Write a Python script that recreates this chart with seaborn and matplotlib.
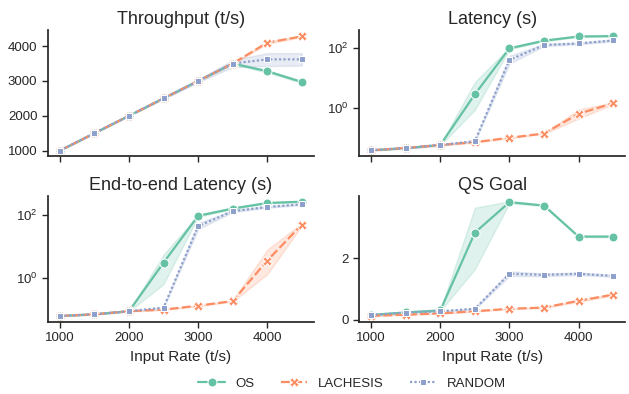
import pandas as pd
import seaborn as sns
import matplotlib.pyplot as plt

rates = [1000, 1500, 2000, 2500, 3000, 3500, 4000, 4500]
methods = ["OS", "LACHESIS", "RANDOM"]

# Throughput (t/s): middle value and band low/high
thr_os = [1000, 1500, 2000, 2500, 3000, 3500, 3280, 2970]
thr_os_lo = [1000, 1500, 2000, 2500, 3000, 3480, 3240, 2940]
thr_os_hi = [1000, 1500, 2000, 2500, 3000, 3520, 3310, 3000]
thr_la = [1000, 1500, 2000, 2500, 3000, 3500, 4100, 4280]
thr_la_lo = [1000, 1500, 2000, 2500, 3000, 3480, 4070, 4260]
thr_la_hi = [1000, 1500, 2000, 2500, 3000, 3520, 4130, 4300]
thr_rd = [1000, 1500, 2000, 2500, 3000, 3500, 3620, 3620]
thr_rd_lo = [1000, 1500, 2000, 2480, 2960, 3400, 3430, 3440]
thr_rd_hi = [1000, 1500, 2000, 2520, 3040, 3600, 3800, 3800]

# Latency (s)
lat_os = [0.040, 0.047, 0.060, 2.9, 97, 174, 240, 247]
lat_os_lo = [0.039, 0.046, 0.058, 0.88, 90, 165, 230, 240]
lat_os_hi = [0.041, 0.048, 0.062, 7.4, 104, 182, 250, 255]
lat_la = [0.040, 0.048, 0.060, 0.074, 0.104, 0.144, 0.65, 1.46]
lat_la_lo = [0.039, 0.046, 0.057, 0.072, 0.100, 0.140, 0.45, 1.35]
lat_la_hi = [0.042, 0.050, 0.063, 0.077, 0.108, 0.150, 0.90, 1.55]
lat_rd = [0.040, 0.047, 0.060, 0.080, 40, 125, 141, 177]
lat_rd_lo = [0.039, 0.046, 0.058, 0.078, 30, 115, 132, 165]
lat_rd_hi = [0.041, 0.048, 0.062, 0.083, 55, 135, 150, 190]

# End-to-end latency (s)
e2e_os = [0.063, 0.071, 0.089, 3.1, 95, 162, 243, 267]
e2e_os_lo = [0.062, 0.070, 0.087, 0.65, 88, 155, 232, 258]
e2e_os_hi = [0.064, 0.072, 0.091, 5.6, 102, 170, 252, 276]
e2e_la = [0.063, 0.071, 0.089, 0.100, 0.133, 0.187, 3.6, 50]
e2e_la_lo = [0.062, 0.070, 0.087, 0.097, 0.128, 0.180, 1.33, 46]
e2e_la_hi = [0.064, 0.072, 0.091, 0.104, 0.138, 0.195, 8.0, 55]
e2e_rd = [0.063, 0.071, 0.089, 0.116, 45, 133, 182, 220]
e2e_rd_lo = [0.062, 0.070, 0.087, 0.112, 36, 124, 172, 210]
e2e_rd_hi = [0.064, 0.072, 0.091, 0.120, 56, 142, 192, 230]

# QS Goal
qs_os = [0.16, 0.24, 0.31, 2.84, 3.83, 3.72, 2.71, 2.71]
qs_os_lo = [0.15, 0.23, 0.29, 1.65, 3.80, 3.70, 2.69, 2.69]
qs_os_hi = [0.17, 0.25, 0.33, 3.65, 3.86, 3.74, 2.73, 2.73]
qs_la = [0.13, 0.17, 0.21, 0.28, 0.36, 0.40, 0.62, 0.82]
qs_la_lo = [0.12, 0.16, 0.20, 0.27, 0.35, 0.38, 0.59, 0.79]
qs_la_hi = [0.14, 0.18, 0.22, 0.29, 0.37, 0.42, 0.65, 0.85]
qs_rd = [0.16, 0.235, 0.28, 0.36, 1.50, 1.465, 1.50, 1.43]
qs_rd_lo = [0.15, 0.225, 0.27, 0.34, 1.43, 1.42, 1.46, 1.40]
qs_rd_hi = [0.17, 0.245, 0.29, 0.38, 1.58, 1.51, 1.54, 1.46]

panels = [
    ("Throughput (t/s)", False, [(thr_os_lo, thr_os, thr_os_hi), (thr_la_lo, thr_la, thr_la_hi), (thr_rd_lo, thr_rd, thr_rd_hi)]),
    ("Latency (s)", True, [(lat_os_lo, lat_os, lat_os_hi), (lat_la_lo, lat_la, lat_la_hi), (lat_rd_lo, lat_rd, lat_rd_hi)]),
    ("End-to-end Latency (s)", True, [(e2e_os_lo, e2e_os, e2e_os_hi), (e2e_la_lo, e2e_la, e2e_la_hi), (e2e_rd_lo, e2e_rd, e2e_rd_hi)]),
    ("QS Goal", False, [(qs_os_lo, qs_os, qs_os_hi), (qs_la_lo, qs_la, qs_la_hi), (qs_rd_lo, qs_rd, qs_rd_hi)]),
]

sns.set_theme(style="ticks", palette="Set2")
plt.rcParams["font.family"] = ["Liberation Sans", "DejaVu Sans"]

fig, axes = plt.subplots(2, 2, figsize=(6.29, 3.94), dpi=100, sharex=True)

for ax, (title, logy, series) in zip(axes.flat, panels):
    rows = []
    for m, (lo, mid, hi) in zip(methods, series):
        for r, a, b, c in zip(rates, lo, mid, hi):
            for v in (a, b, c):
                rows.append({"rate": r, "value": v, "method": m})
    df = pd.DataFrame(rows)
    sns.lineplot(data=df, x="rate", y="value", hue="method", style="method",
                 markers=True, estimator="median", errorbar=("pi", 100),
                 hue_order=methods, style_order=methods, markersize=6.5,
                 linewidth=1.6, ax=ax, legend=(ax is axes[1, 1]))
    if logy:
        ax.set_yscale("log")
        ax.set_yticks([1, 100])
        ax.tick_params(axis="y", which="minor", length=0)
    ax.set_title(title, fontsize=13, pad=4)
    ax.set_ylabel("")
    ax.set_xlabel("Input Rate (t/s)", fontsize=11)
    ax.tick_params(labelsize=9.5, length=4, width=1)
    sns.despine(ax=ax)

axes[0, 0].set_xticks([1000, 2000, 3000, 4000])
axes[1, 1].set_yticks([0, 2])

handles, labels = axes[1, 1].get_legend_handles_labels()
axes[1, 1].get_legend().remove()
fig.legend(handles, labels, loc="lower center", ncol=3, frameon=False,
           bbox_to_anchor=(0.56, -0.02), fontsize=9.5, handlelength=2.0, columnspacing=2.0)

fig.subplots_adjust(left=0.076, right=0.994, top=0.924, bottom=0.183, hspace=0.31, wspace=0.17)
plt.savefig("out.png", dpi=100)
